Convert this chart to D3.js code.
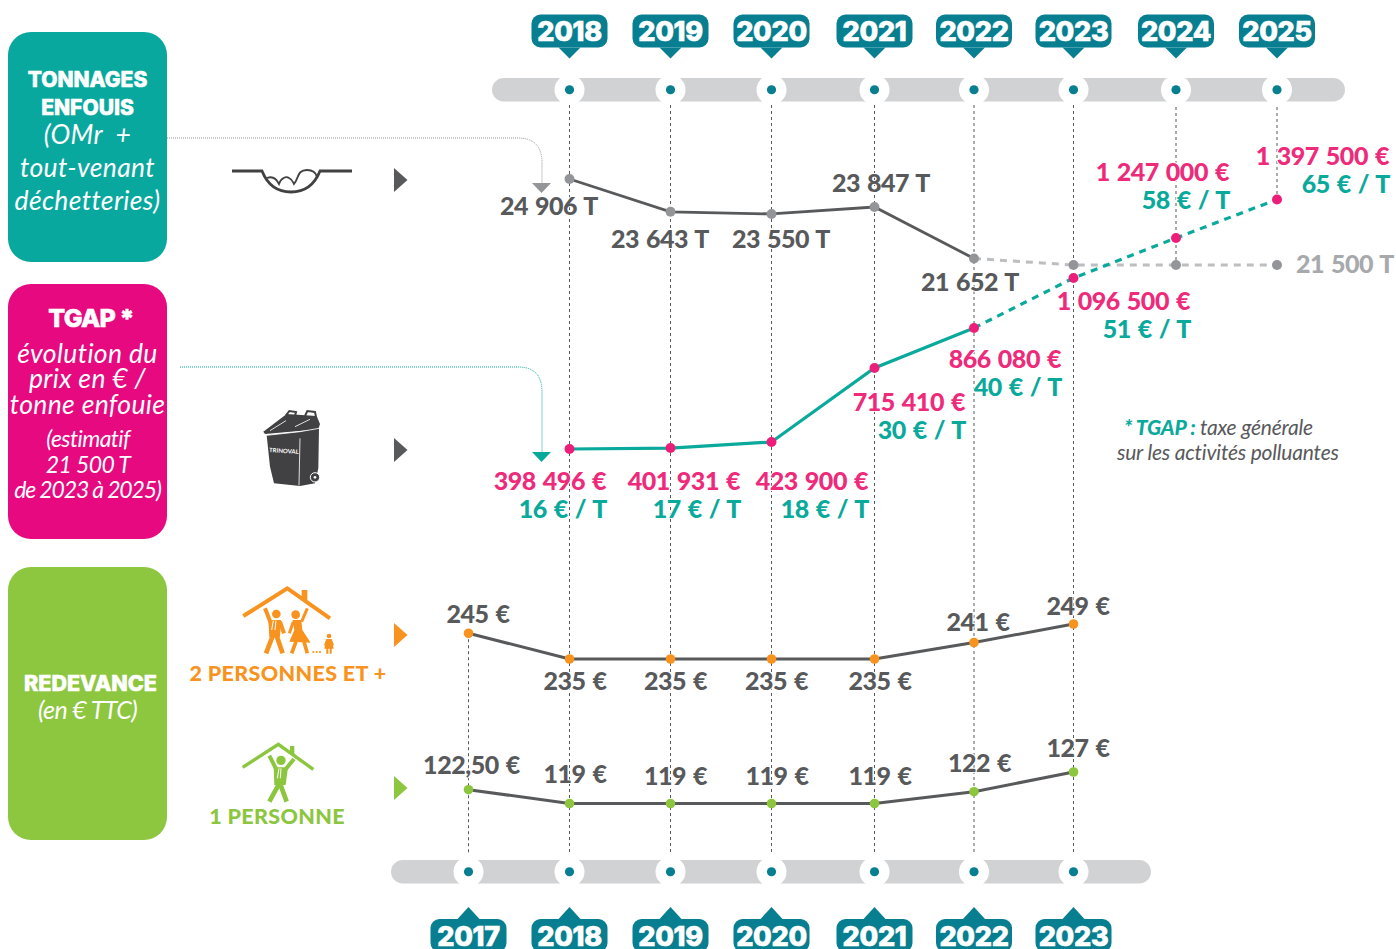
<!DOCTYPE html>
<html>
<head>
<meta charset="utf-8">
<title>Tonnages, TGAP et redevance</title>
<script src="https://cdn.jsdelivr.net/npm/d3@7"></script>
<style>
  html, body { margin: 0; padding: 0; background: #fff; }
  svg { display: block; }
  text { font-family: Lato, "Open Sans", sans-serif; }
  .val { font-size: 25px; font-weight: 900; letter-spacing: -0.45px; word-spacing: 1.5px; paint-order: stroke; stroke: #fff; stroke-width: 2px; }
  .year { font-family: Inter, sans-serif; font-size: 27px; font-weight: 800; fill: #fff; stroke: #fff; stroke-width: 0.7px; text-anchor: middle; letter-spacing: -0.3px; }
  .head { font-family: Inter, sans-serif; font-size: 21px; font-weight: 800; fill: #fff; stroke: #fff; stroke-width: 0.6px; text-anchor: middle; letter-spacing: 0; }
  .sub { font-size: 26.5px; font-style: italic; font-weight: 400; fill: #fff; text-anchor: middle; letter-spacing: 0.35px; }
  .note { font-size: 21px; font-style: italic; fill: #58595b; letter-spacing: -0.2px; }
  .caption { font-size: 21.5px; font-weight: 900; text-anchor: middle; letter-spacing: 0.35px; }
</style>
</head>
<body>
<div id="chart"></div>
<script>
// years
var allYears = [2017, 2018, 2019, 2020, 2021, 2022, 2023, 2024, 2025];
var topYears = [2018, 2019, 2020, 2021, 2022, 2023, 2024, 2025];
var bottomYears = [2017, 2018, 2019, 2020, 2021, 2022, 2023];

// values
var tonnes = [24906, 23643, 23550, 23847, 21652, 21500, 21500, 21500];
var tgapEuros = [398496, 401931, 423900, 715410, 866080, 1096500, 1247000, 1397500];
var tgapPerTonne = [16, 17, 18, 30, 40, 51, 58, 65];
var redevance2 = [245, 235, 235, 235, 235, 241, 249];
var redevance1 = [122.5, 119, 119, 119, 119, 122, 127];

// label placement, offset from each point (end/middle anchored)
var tonnesDx = [28.5, 38.5, 58.5, 55.5, 45, null, null, 117];
var tonnesDy = [36, 36, 34.5, -15, 32.5, null, null, 8];
var tgapDx = [36.5, 69.5, 96.5, 90.5, 87, 116.5, 53, 112];
var tgapDy = [41, 42, 48, 43, 40, 32, -57, -34.5];
var red2Dx = [9.5, 5.5, 5, 5, 5.5, 4, 4.5];
var red2Dy = [-10, 31, 31, 31, 31, -12, -9];
var red1Dx = [3, 5.5, 5, 5.5, 5.5, 5.5, 4.5];
var red1Dy = [-16, -20.5, -18.5, -18.5, -18.5, -20, -15];

var width = 1396, height = 949;
var teal = "#09a99c", pink = "#ed1e79", boxPink = "#e6097f", green = "#8dc63f",
    orange = "#f7931e", dark = "#58595b", grey = "#939598", lightGrey = "#bcbec0",
    petrol = "#087f91", barGrey = "#d1d2d4";

var svg = d3.select("#chart").append("svg")
    .attr("width", width)
    .attr("height", height);

var x = d3.scaleLinear()
    .domain(allYears)
    .range([468.5, 569.5, 670.5, 771.5, 874.5, 974, 1073.5, 1176, 1277]);

var yTonnes = d3.scaleLinear()
    .domain([21500, 21652, 23847, 24906])
    .range([265, 258.5, 207, 179]);
var yTgap = d3.scaleLinear()
    .domain([398496, 423900, 715410, 866080, 1096500, 1247000, 1397500])
    .range([449, 442, 368, 328, 278, 238, 199.5]);
var yRed2 = d3.scaleLinear().domain([235, 241, 249]).range([659, 642.5, 624]);
var yRed1 = d3.scaleLinear().domain([119, 127]).range([803.5, 772]);

var fr = d3.formatLocale({decimal: ",", thousands: " ", grouping: [3], currency: ["", " €"]});
function fmt(v) { return v % 1 ? fr.format(".2f")(v) : fr.format(",")(v); }

// left coloured boxes
function box(y0, y1, color) {
    svg.append("rect").attr("x", 8).attr("y", y0)
        .attr("width", 159).attr("height", y1 - y0)
        .attr("rx", 23).attr("fill", color);
}
function lines(list, cls, cx, size, spacing) {
    list.forEach(function(l) {
        var t = svg.append("text").attr("class", cls).attr("x", cx).attr("y", l[1]).text(l[0]);
        if (size) t.style("font-size", size + "px");
        if (spacing !== undefined) t.style("letter-spacing", spacing + "px");
    });
}
box(32, 262, "#09a89e");
box(284, 539, boxPink);
box(567, 840, green);
lines([["TONNAGES", 87], ["ENFOUIS", 115]], "head", 87.5);
lines([["(OMr\u00a0\u00a0+", 144], ["tout-venant", 177], ["déchetteries)", 210]], "sub", 87.5);
lines([["TGAP *", 327]], "head", 91, 25, -0.7);
lines([["évolution du", 363], ["prix en € /", 388], ["tonne enfouie", 414]], "sub", 87.5);
lines([["(estimatif", 447], ["21 500 T", 473]], "sub", 88, 23, -0.6);
lines([["de 2023 à 2025)", 498]], "sub", 87.5, 23, -1.15);
lines([["REDEVANCE", 691]], "head", 90.5, 21.5, 0);
lines([["(en € TTC)", 719]], "sub", 87.5, 25, -0.6);

// connectors from the boxes
function connector(d, color, tipY) {
    svg.append("path").attr("d", d).attr("fill", "none")
        .attr("stroke", color).attr("stroke-width", 1).attr("stroke-dasharray", "1,1");
    svg.append("path")
        .attr("d", "M532," + tipY + "h19l-9.5,10z")
        .attr("fill", color);
}
connector("M167,138H518Q542,138 542,163V184", grey, 183);
connector("M180,367H518Q542,367 542,392V452", teal, 452);

// side arrows
[[180, dark], [450, dark], [635, orange], [788, green]].forEach(function(a) {
    svg.append("path")
        .attr("d", "M394," + (a[0] - 12) + "l13.5,12l-13.5,12z")
        .attr("fill", a[1]);
});

// time bars
function timeBar(x0, x1, y0, years) {
    svg.append("rect").attr("x", x0).attr("y", y0)
        .attr("width", x1 - x0).attr("height", 23.5)
        .attr("rx", 11.75).attr("fill", barGrey);
    svg.selectAll(null).data(years).enter().append("circle")
        .attr("cx", x).attr("cy", y0 + 11.75).attr("r", 15).attr("fill", "#fff");
    svg.selectAll(null).data(years).enter().append("circle")
        .attr("cx", x).attr("cy", y0 + 11.75).attr("r", 4.6).attr("fill", petrol);
}
timeBar(492, 1345, 78, topYears);
timeBar(391, 1151, 860, bottomYears);

// guides
var guideEnds = {2017: [yRed2(245), 855], 2024: [107, yTonnes(21500)], 2025: [107, yTgap(1397500)]};
svg.selectAll(null).data(allYears).enter().append("line")
    .attr("x1", x).attr("x2", x)
    .attr("y1", function(d) { return guideEnds[d] ? guideEnds[d][0] : 105; })
    .attr("y2", function(d) { return guideEnds[d] ? guideEnds[d][1] : 855; })
    .attr("stroke", dark).attr("stroke-width", 1).attr("stroke-dasharray", "3,3");

// year flags
function flags(years, yBody, up) {
    var g = svg.selectAll(null).data(years).enter().append("g")
        .attr("transform", function(d) { return "translate(" + x(d) + ",0)"; });
    g.append("rect").attr("x", -38).attr("y", yBody).attr("width", 76).attr("height", 33)
        .attr("rx", 9).attr("fill", petrol);
    g.append("path").attr("fill", petrol)
        .attr("d", up ? "M-11," + yBody + "L0," + (yBody - 12) + "L11," + yBody + "z"
                      : "M-11," + (yBody + 33) + "L0," + (yBody + 44) + "L11," + (yBody + 33) + "z");
    g.append("text").attr("class", "year").attr("y", yBody + 26.5).text(String);
}
flags(topYears, 14.5, false);
flags(bottomYears, 919, true);

// series
function lineOf(years, scale) {
    return d3.line().x(function(d, i) { return x(years[i]); }).y(function(d) { return scale(d); });
}
function stroke(years, values, scale, color, w, dash) {
    svg.append("path").datum(values)
        .attr("d", lineOf(years, scale))
        .attr("fill", "none").attr("stroke", color).attr("stroke-width", w)
        .attr("stroke-dasharray", dash || null);
}
function dots(years, values, scale, color, r) {
    svg.selectAll(null).data(values).enter().append("circle")
        .attr("cx", function(d, i) { return x(years[i]); })
        .attr("cy", function(d) { return scale(d); })
        .attr("r", r).attr("fill", color);
}
function valueLabels(years, values, scale, dx, dy, color, anchor, suffix) {
    values.forEach(function(v, i) {
        if (dx[i] === null) return;
        svg.append("text").attr("class", "val")
            .attr("x", x(years[i]) + dx[i])
            .attr("y", scale(v) + dy[i])
            .attr("text-anchor", anchor)
            .attr("fill", typeof color === "function" ? color(i) : color)
            .text(fmt(v) + suffix);
    });
}

// tonnages
valueLabels(topYears, tonnes, yTonnes, tonnesDx, tonnesDy, function(i) { return i === 7 ? "#a7a9ac" : dark; }, "end", " T");
stroke(topYears.slice(4), tonnes.slice(4), yTonnes, lightGrey, 3, "7,6");
stroke(topYears.slice(0, 5), tonnes.slice(0, 5), yTonnes, dark, 2.8);
dots(topYears, tonnes, yTonnes, grey, 5);

// TGAP
valueLabels(topYears, tgapEuros, yTgap, tgapDx, tgapDy, "#ee2a7b", "end", " €");
tgapPerTonne.forEach(function(v, i) {
    svg.append("text").attr("class", "val")
        .attr("x", x(topYears[i]) + tgapDx[i] + 1)
        .attr("y", yTgap(tgapEuros[i]) + tgapDy[i] + 28)
        .attr("text-anchor", "end").attr("fill", teal)
        .text(v + " € / T");
});
stroke(topYears.slice(4), tgapEuros.slice(4), yTgap, teal, 3.2, "7,6");
stroke(topYears.slice(0, 5), tgapEuros.slice(0, 5), yTgap, teal, 3.2);
dots(topYears, tgapEuros, yTgap, pink, 5);

// redevance
valueLabels(bottomYears, redevance2, yRed2, red2Dx, red2Dy, dark, "middle", " €");
stroke(bottomYears, redevance2, yRed2, dark, 3);
dots(bottomYears, redevance2, yRed2, orange, 4.8);
valueLabels(bottomYears, redevance1, yRed1, red1Dx, red1Dy, dark, "middle", " €");
stroke(bottomYears, redevance1, yRed1, dark, 3);
dots(bottomYears, redevance1, yRed1, "#8cc63f", 4.8);

// row captions
svg.append("text").attr("class", "caption").attr("x", 288).attr("y", 681)
    .attr("fill", orange).text("2 PERSONNES ET +");
svg.append("text").attr("class", "caption").attr("x", 277).attr("y", 824)
    .attr("fill", "#8cc63f").text("1 PERSONNE");

// footnote
var n1 = svg.append("text").attr("class", "note").attr("x", 1124).attr("y", 435);
n1.append("tspan").attr("fill", teal).style("font-weight", 900).text("* TGAP : ");
n1.append("tspan").text("taxe générale");
svg.append("text").attr("class", "note").attr("x", 1117).attr("y", 460).text("sur les activités polluantes");

// landfill icon
svg.append("path")
    .attr("d", "M232,171H262C268,186 278,192 291,192C304,192 314,186 320,171H352")
    .attr("fill", "none").attr("stroke", "#414042").attr("stroke-width", 2.8);
svg.append("path")
    .attr("d", "M267,178C272,176 276,178 279,184C281,178 286,176 289,178C293,180 293,182 294,184C299,178 297,170 307,170C313,170 316,173 317,177")
    .attr("fill", "none").attr("stroke", "#414042").attr("stroke-width", 1.8);

// bin icon
var bin = svg.append("g").attr("transform", "translate(250,400) scale(0.3333)");
bin.append("path").attr("fill", "#414042")
    .attr("d", "M50,106L150,95L207,85L205,205L195,250L150,258L72,250L60,200Z");
bin.append("path").attr("fill", "#414042")
    .attr("d", "M40,95L110,42L200,48L210,72L205,88L155,92L45,102Z");
bin.append("path").attr("fill", "none").attr("stroke", "#414042").attr("stroke-width", 6)
    .attr("d", "M108,46L118,33L138,36L135,48M165,48L172,33L195,36L198,50");
bin.append("path").attr("fill", "none").attr("stroke", "#fff").attr("stroke-width", 2.5)
    .attr("d", "M150,115L147,256M60,92L108,62M135,80L180,58M50,106L150,95L207,85");
bin.append("circle").attr("cx", 195).attr("cy", 232).attr("r", 14)
    .attr("fill", "#414042").attr("stroke", "#fff").attr("stroke-width", 3);
bin.append("circle").attr("cx", 195).attr("cy", 232).attr("r", 4).attr("fill", "#fff");
svg.append("text").attr("x", 269).attr("y", 452)
    .attr("transform", "rotate(4 269 452)")
    .attr("fill", "#fff").style("font-size", "6px").style("font-weight", 700).text("TRINOVAL");

// people icons (drawn at 3x then scaled down)
function person(g, color, head, arms, torso, legs, tie, w) {
    g.append("circle").attr("cx", head[0]).attr("cy", head[1]).attr("r", head[2]).attr("fill", color);
    g.append("path").attr("d", arms).attr("fill", "none").attr("stroke", color).attr("stroke-width", w - 2);
    g.append("path").attr("d", torso).attr("fill", color);
    g.append("path").attr("d", legs).attr("fill", "none").attr("stroke", color).attr("stroke-width", w);
    if (tie) g.append("path").attr("d", tie).attr("fill", "none").attr("stroke", "#fff").attr("stroke-width", 3);
}
var fam = svg.append("g").attr("transform", "translate(230,580) scale(0.3333)");
fam.append("path").attr("d", "M40,108L172,25L300,115").attr("fill", "none").attr("stroke", orange).attr("stroke-width", 12);
fam.append("rect").attr("x", 215).attr("y", 30).attr("width", 17).attr("height", 30).attr("fill", orange);
person(fam, orange, [139, 102, 13], "M105,85L122,128M150,125L162,160", "M115,120L153,120L150,172L118,172Z", "M128,168L108,220M140,168L158,220", "M130,122L125,150M138,122L135,150", 14);
person(fam, orange, [197, 104, 13], "M232,85L215,125M190,125L178,160", "M188,120L214,120L217,150L242,188L178,185L193,150Z", "M198,185L185,220M222,185L232,220", null, 11);
[250, 260, 270].forEach(function(cx) {
    fam.append("circle").attr("cx", cx).attr("cy", 216).attr("r", 3.2).attr("fill", orange);
});
person(fam, orange, [297, 168, 7], "M290,180L284,196M304,180L310,196", "M289,177L305,177L311,206L283,206Z", "M292,204L292,221M302,204L302,221", null, 6);

var solo = svg.append("g").attr("transform", "translate(230,735) scale(0.3333)");
solo.append("path").attr("d", "M38,97L145,28L250,103").attr("fill", "none").attr("stroke", "#8cc63f").attr("stroke-width", 10);
solo.append("rect").attr("x", 180).attr("y", 33).attr("width", 13).attr("height", 25).attr("fill", "#8cc63f");
person(solo, "#8cc63f", [153, 76, 14], "M118,62L140,105M192,72L165,105", "M131,97L174,97L167,150L133,150Z", "M148,145L118,200M150,145L170,200", "M147,100L142,130M153,100L151,130", 14);
</script>
</body>
</html>
